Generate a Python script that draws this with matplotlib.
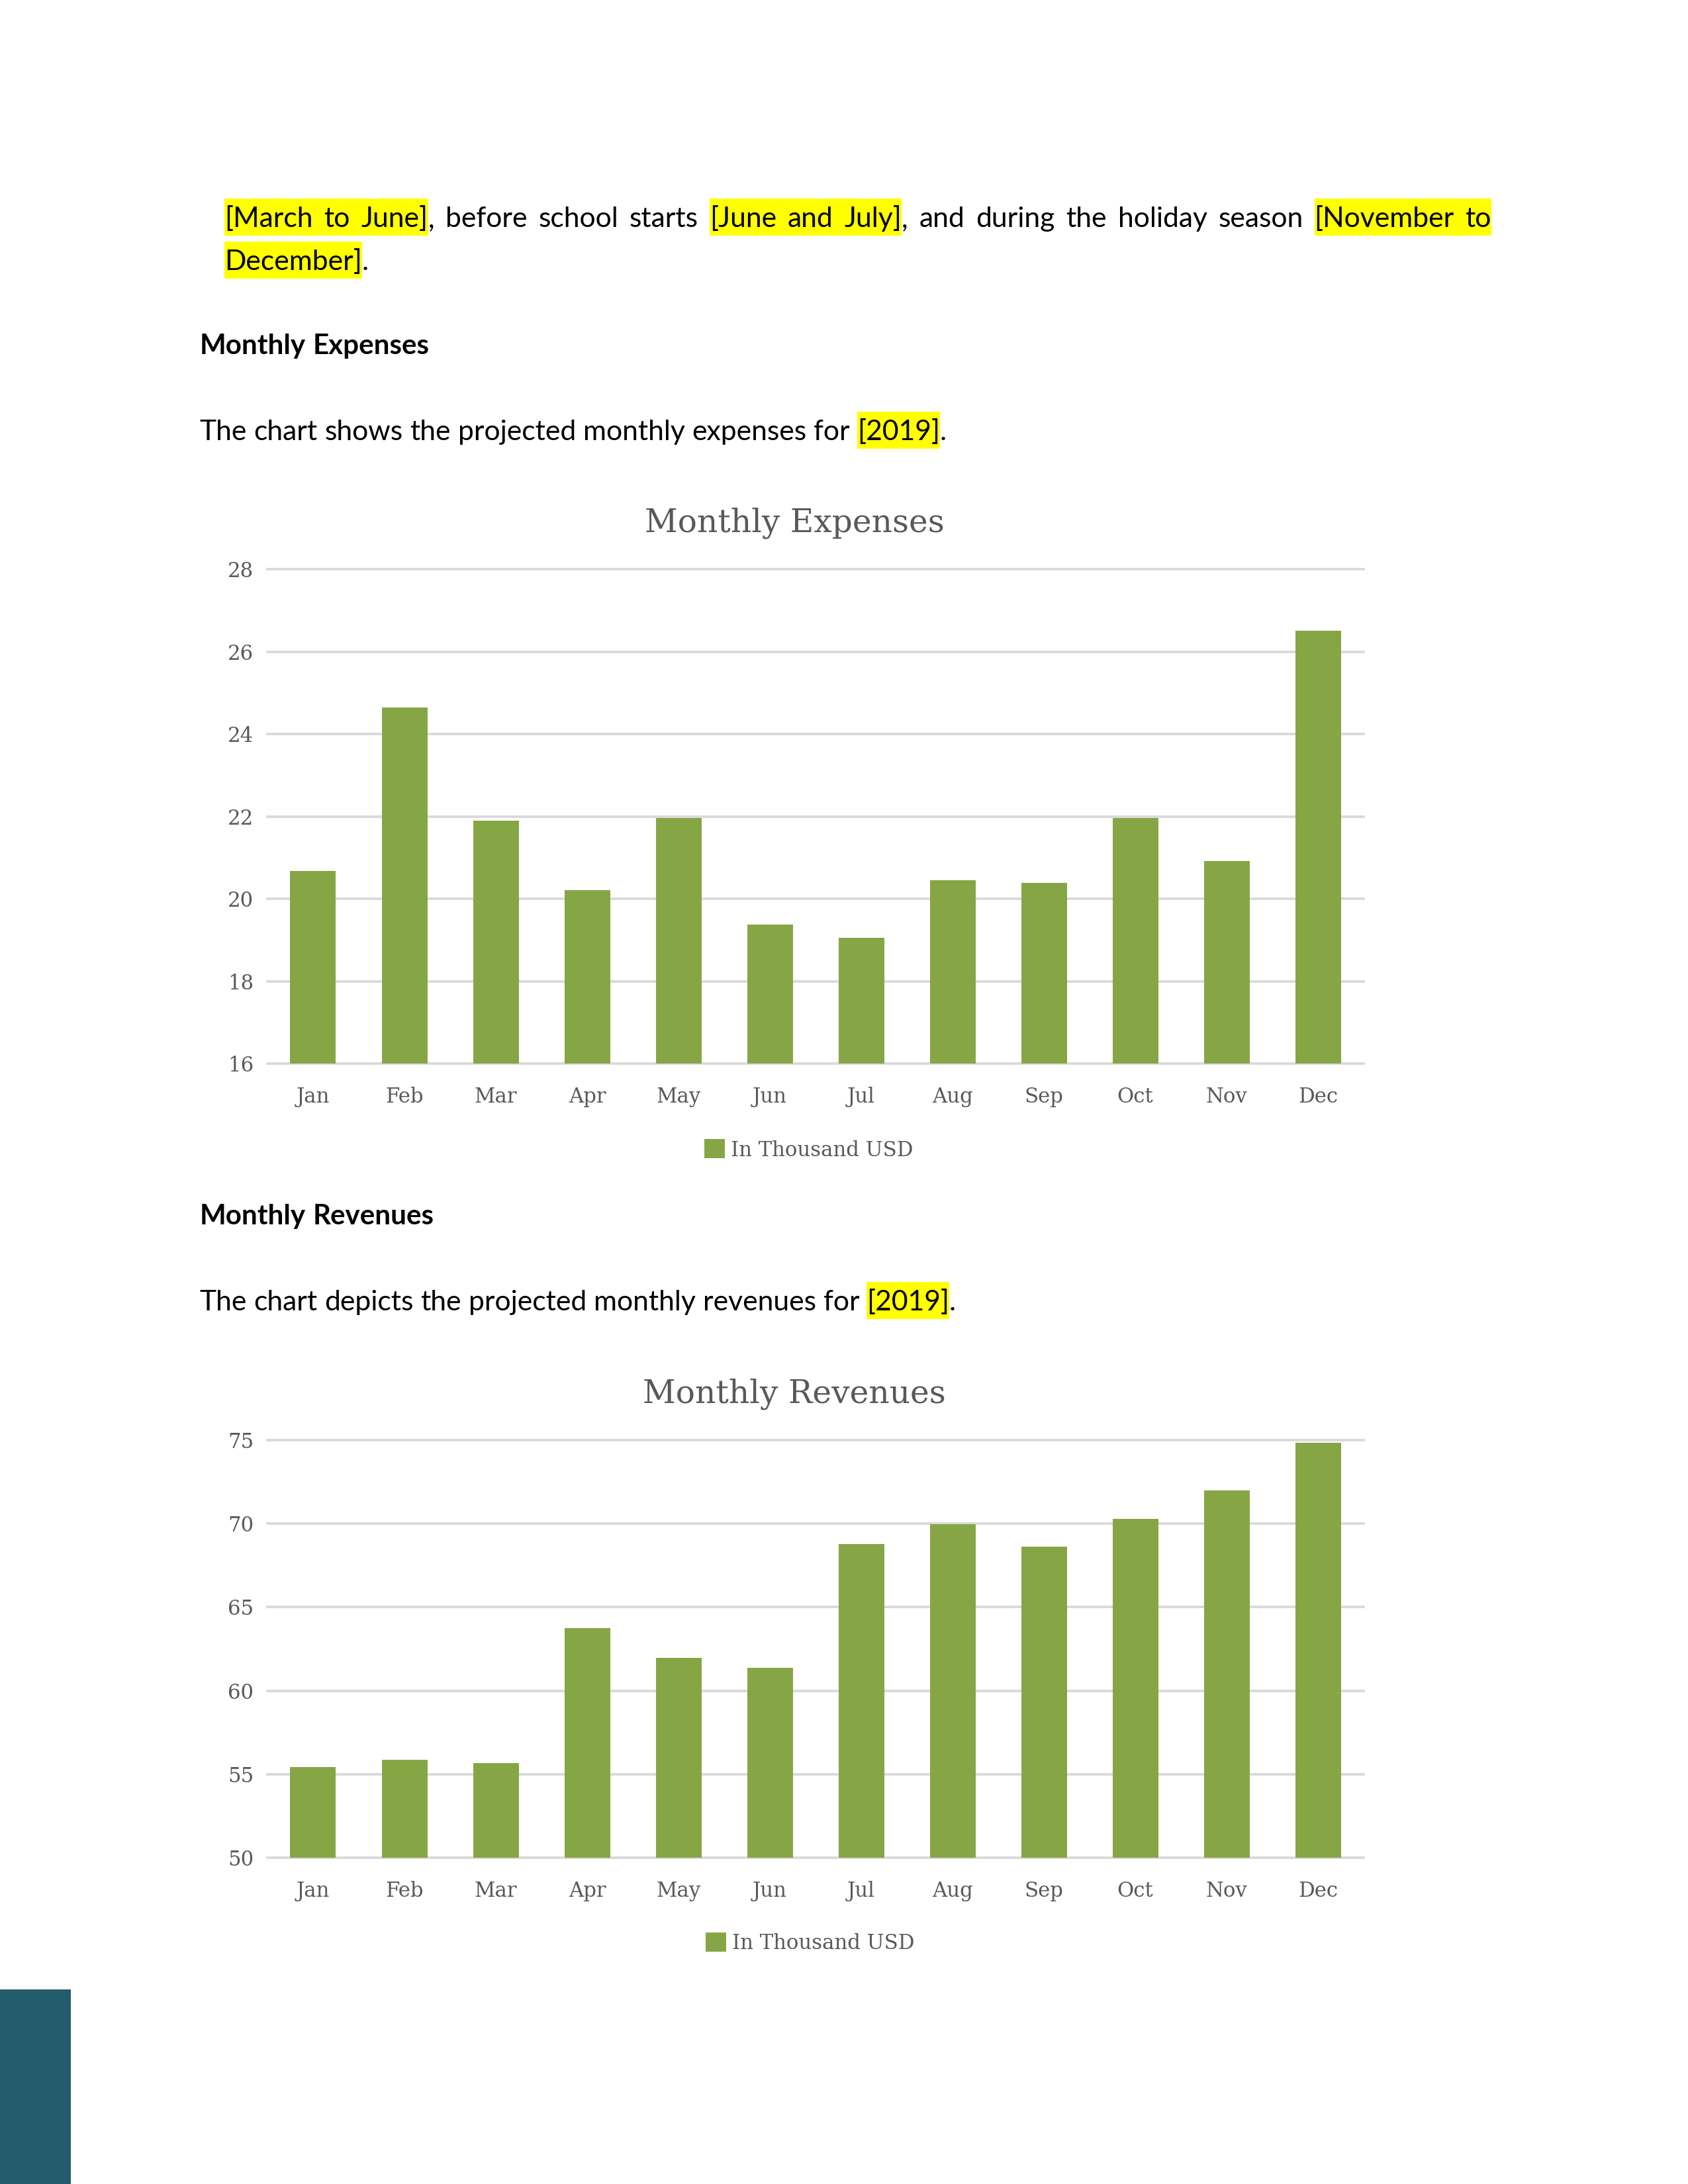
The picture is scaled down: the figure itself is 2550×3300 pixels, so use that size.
import matplotlib
matplotlib.use('Agg')
import matplotlib.pyplot as plt
from matplotlib.font_manager import FontProperties
from matplotlib.patches import Rectangle

# ---------------- data ----------------
months = ['Jan', 'Feb', 'Mar', 'Apr', 'May', 'Jun',
          'Jul', 'Aug', 'Sep', 'Oct', 'Nov', 'Dec']
expenses = [20.68, 24.65, 21.90, 20.21, 21.96, 19.38,
            19.05, 20.45, 20.39, 21.96, 20.91, 26.50]
revenues = [55.41, 55.88, 55.65, 63.74, 61.95, 61.36,
            68.76, 69.95, 68.64, 70.30, 72.00, 74.83]
exp_ticks = [16, 18, 20, 22, 24, 26, 28]
rev_ticks = [50, 55, 60, 65, 70, 75]
series_label = 'In Thousand USD'
exp_title = 'Monthly Expenses'
rev_title = 'Monthly Revenues'

# ---------------- style ----------------
W, H, DPI = 2550, 3300, 300
BAR = '#86A646'
GRID = '#D9D9D9'
TXT = '#595959'
HL = '#FFFF00'
BODY_FONT = 'Lato'
CHART_FONT = 'DejaVu Serif'
AX_L, AX_R = 404, 2060

fig = plt.figure(figsize=(W / DPI, H / DPI), dpi=DPI)
fig.patch.set_facecolor('white')
renderer = fig.canvas.get_renderer()


def fx(px):
    return px / W


def fy(py):
    return 1 - py / H


def text_w(s, size, family, weight='normal'):
    fp = FontProperties(family=family, size=size, weight=weight)
    w, h, d = renderer.get_text_width_height_descent(s, fp, ismath=False)
    return w


def fit_size(s, target, family, weight='normal'):
    return 10.0 * target / text_w(s, 10.0, family, weight)


body_size = fit_size('The chart shows the projected monthly expenses for', 984, BODY_FONT)
head_size = fit_size('Monthly Expenses', 346, BODY_FONT, 'bold')


def draw_words(words, x0, base, size, x1=None, weight='normal'):
    widths = [[text_w(t, size, BODY_FONT, weight) for t, _ in w] for w in words]
    space = text_w('a a', size, BODY_FONT, weight) - text_w('aa', size, BODY_FONT, weight)
    totals = [sum(ws) for ws in widths]
    if x1 is None or len(words) < 2:
        gap = space
    else:
        gap = (x1 - x0 - sum(totals)) / (len(words) - 1)
    x = x0
    runs, cur = [], None
    for w, ws in zip(words, widths):
        for (t, hl), tw in zip(w, ws):
            fig.text(fx(x), fy(base), t, fontsize=size, family=BODY_FONT,
                     weight=weight, ha='left', va='baseline', color='black',
                     zorder=3)
            if hl:
                if cur is None:
                    cur = [x, x + tw]
                else:
                    cur[1] = x + tw
            else:
                if cur is not None:
                    runs.append(cur)
                    cur = None
            x += tw
        x += gap
    if cur is not None:
        runs.append(cur)
    for a, b in runs:
        fig.add_artist(Rectangle((fx(a), fy(base + 13)), (b - a) / W, 56 / H,
                                 transform=fig.transFigure, facecolor=HL,
                                 edgecolor='none', zorder=1))


def simple(text, hl=False):
    return [[(t, hl)] for t in text.split(' ')]


# paragraph lines
line1 = [[('[March', True)], [('to', True)], [('June]', True), (',', False)],
         [('before', False)], [('school', False)], [('starts', False)],
         [('[June', True)], [('and', True)], [('July]', True), (',', False)],
         [('and', False)], [('during', False)], [('the', False)],
         [('holiday', False)], [('season', False)],
         [('[November', True)], [('to', True)]]
draw_words(line1, 339, 343, body_size, x1=2253)
draw_words([[('December]', True), ('.', False)]], 339, 408, body_size)

draw_words(simple('Monthly Expenses'), 302, 535, head_size, weight='bold')
draw_words(simple('The chart shows the projected monthly expenses for')
           + [[('[2019]', True), ('.', False)]], 301, 665, body_size)

draw_words(simple('Monthly Revenues'), 302, 1850, head_size, weight='bold')
draw_words(simple('The chart depicts the projected monthly revenues for')
           + [[('[2019]', True), ('.', False)]], 301, 1980, body_size)

# ---------------- charts ----------------
tick_size = 7.4
title_size = fit_size(exp_title, 453, CHART_FONT)


def make_chart(top_px, bot_px, values, ticks, title, title_base, leg_cx, leg_cy):
    ax = fig.add_axes([fx(AX_L), fy(bot_px), (AX_R - AX_L) / W, (bot_px - top_px) / H])
    xs = list(range(len(months)))
    ax.bar(xs, values, width=0.5, color=BAR, zorder=2, label=series_label)
    ax.set_xlim(-0.5, len(months) - 0.5)
    ax.set_ylim(ticks[0], ticks[-1])
    ax.set_yticks(ticks)
    ax.set_xticks(xs)
    ax.set_xticklabels(months)
    for t in ticks:
        ax.axhline(t, color=GRID, lw=0.9, zorder=1, clip_on=False)
    for s in ax.spines.values():
        s.set_visible(False)
    ax.set_facecolor('none')
    ax.tick_params(axis='both', length=0, labelsize=tick_size, colors=TXT)
    ax.tick_params(axis='y', pad=5)
    ax.tick_params(axis='x', pad=8.4)
    for lab in ax.get_xticklabels() + ax.get_yticklabels():
        lab.set_family(CHART_FONT)
    fig.text(fx(1200), fy(title_base), title, ha='center', va='baseline',
             fontsize=title_size, family=CHART_FONT, color=TXT)
    ax.legend(loc='center', bbox_to_anchor=(fx(leg_cx), fy(leg_cy)),
              bbox_transform=fig.transFigure, frameon=False,
              prop=FontProperties(family=CHART_FONT, size=tick_size),
              labelcolor=TXT, handlelength=1.0, handleheight=1.07,
              handletextpad=0.3, borderpad=0, borderaxespad=0)
    return ax


make_chart(860, 1607, expenses, exp_ticks, exp_title, 803, 1221.5, 1737.5)
make_chart(2176, 2807, revenues, rev_ticks, rev_title, 2120, 1223.5, 2936)

# decorative page block bottom-left
fig.add_artist(Rectangle((0, 0), 107 / W, (H - 3006) / H, transform=fig.transFigure,
                         facecolor='#235C6C', edgecolor='none', zorder=1))

fig.savefig('out.png', dpi=DPI)
